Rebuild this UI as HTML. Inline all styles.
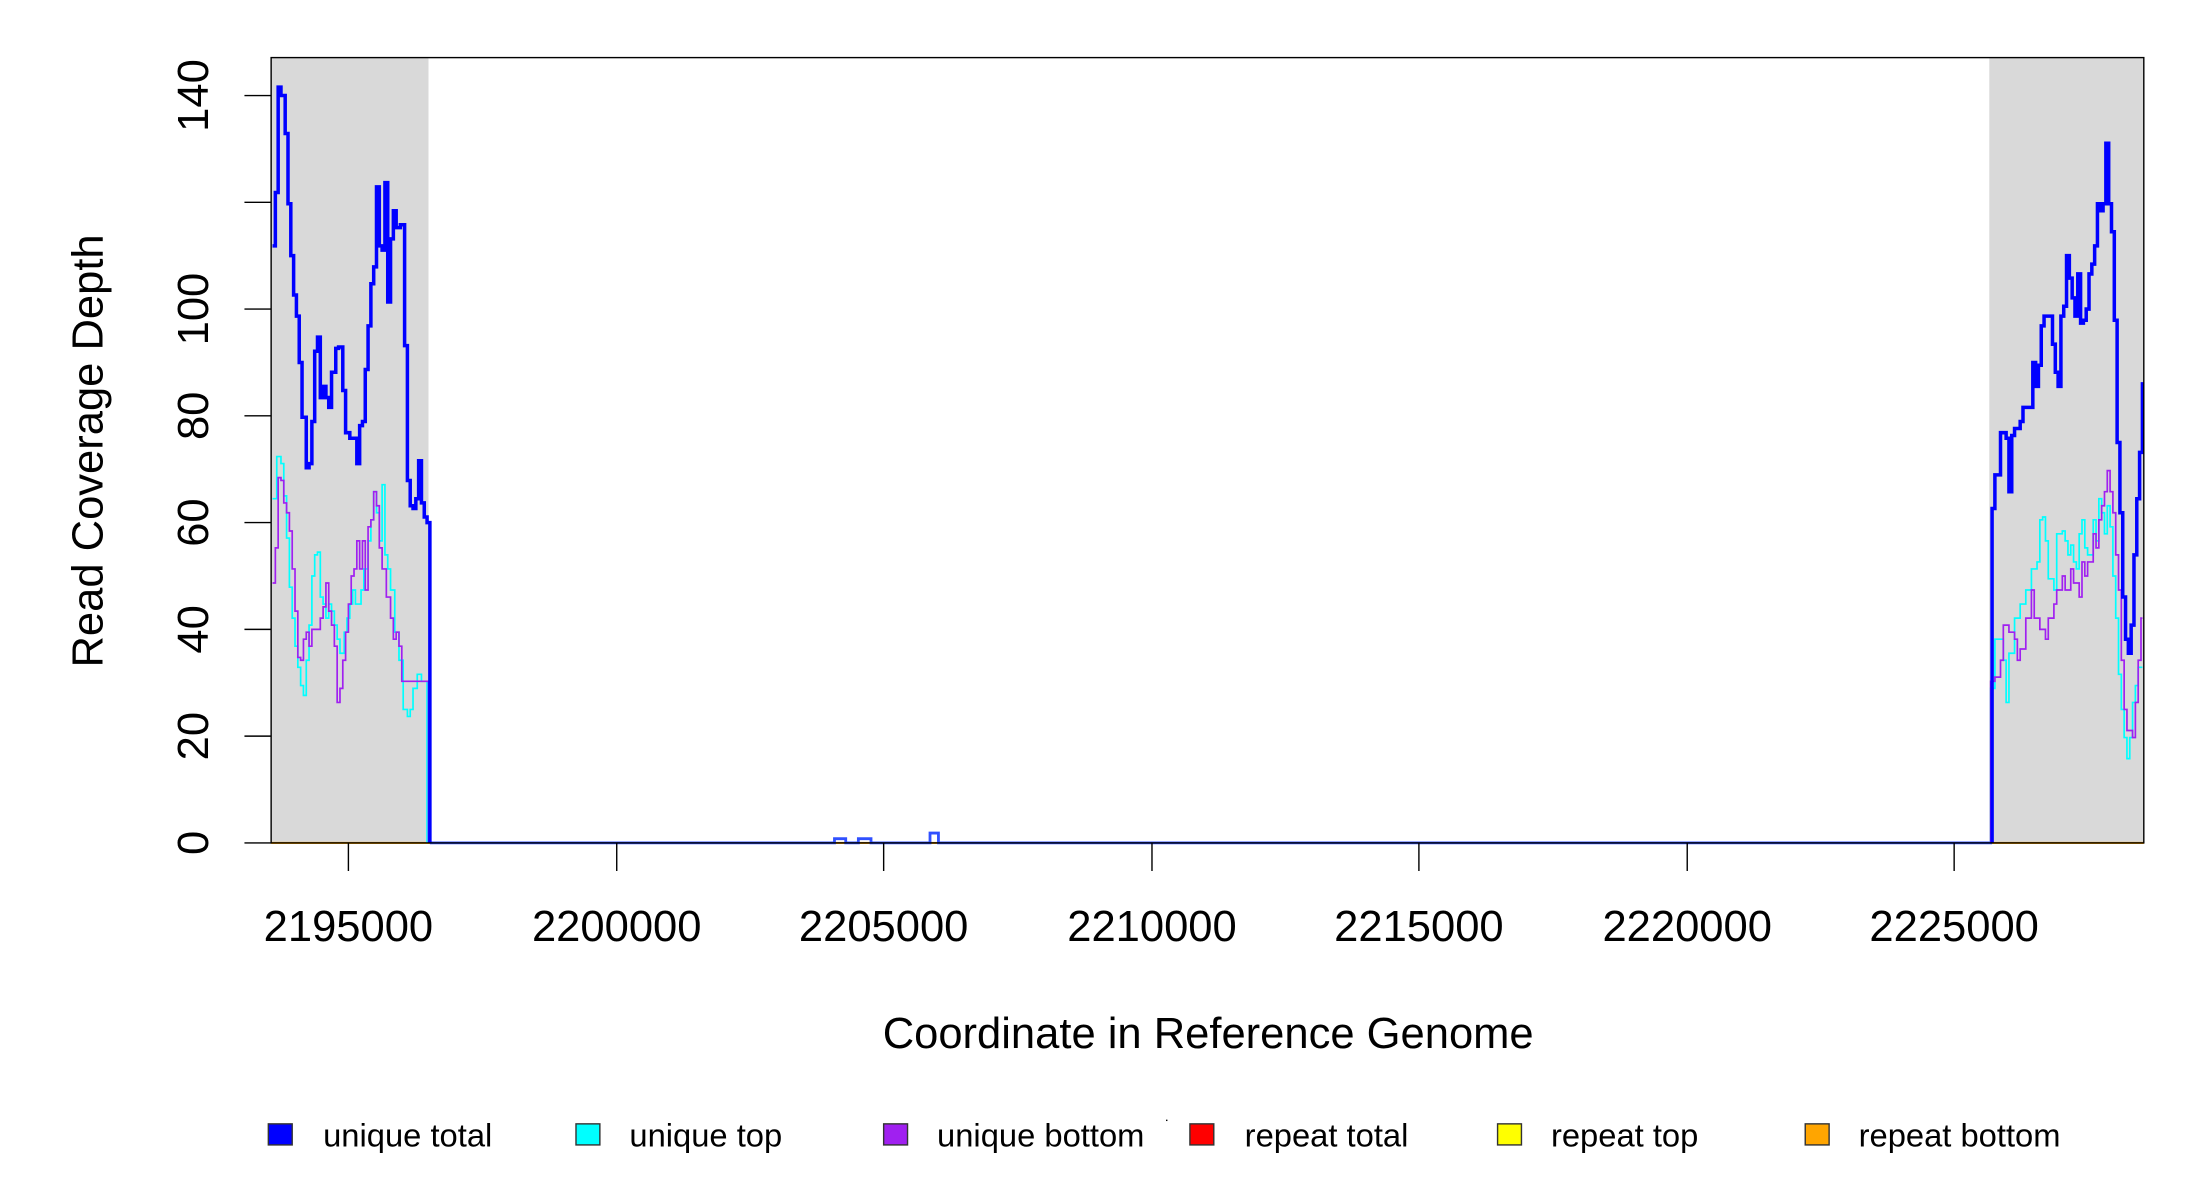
<!DOCTYPE html>
<html><head><meta charset="utf-8"><style>html,body{margin:0;padding:0;background:#fff}svg{display:block}</style></head>
<body>
<svg width="2200" height="1200" viewBox="0 0 1566 854.2" preserveAspectRatio="none" xmlns="http://www.w3.org/2000/svg" font-family="Liberation Sans, sans-serif">
<rect width="1566" height="854.2" fill="#fff"/>
<rect x="193" y="41" width="112" height="559" fill="#d9d9d9"/>
<rect x="1416" y="41" width="110" height="559" fill="#d9d9d9"/>
<line x1="193" y1="600" x2="1526" y2="600" stroke="#ffa500" stroke-width="1.5"/>
<path d="M306 600 H594 V597 H602 V600 H611 V597 H620 V600 H662 V593 H668 V600 H1418" fill="none" stroke="#3050ff" stroke-width="2"/>
<path fill="none" stroke="#00ffff" stroke-width="1.2" d="M194 355 H197 V325 H200 V330 H202 V353 H204 V383 H206 V418 H208 V440 H210 V460 H212 V475 H214 V488 H216 V495 H218 V470 H220 V445 H222 V410 H224 V395 H226 V393 H228 V425 H230 V430 H232 V440 H234 V430 H236 V435 H238 V445 H240 V455 H242 V465 H245 V450 H247 V440 H249 V430 H251 V420 H253 V430 H257 V420 H259 V405 H262 V385 H264 V370 H266 V350 H268 V365 H270 V385 H272 V345 H274 V395 H276 V405 H278 V420 H281 V450 H284 V470 H287 V505 H290 V510 H292 V505 H294 V490 H297 V480 H300 V485 H304 V600"/>
<path fill="none" stroke="#a020f0" stroke-width="1.2" d="M194 415 H196 V390 H198 V340 H200 V342 H202 V358 H204 V365 H206 V378 H208 V405 H210 V435 H212 V468 H214 V470 H216 V455 H218 V450 H220 V460 H222 V448 H226 V448 H228 V440 H230 V432 H232 V415 H234 V435 H236 V445 H238 V460 H240 V500 H242 V490 H244 V470 H246 V450 H248 V430 H250 V410 H252 V405 H254 V385 H256 V405 H258 V385 H260 V420 H262 V375 H264 V370 H266 V350 H268 V360 H270 V390 H272 V405 H275 V425 H278 V440 H280 V455 H282 V450 H284 V460 H286 V485 H305 V600"/>
<path fill="none" stroke="#0000ff" stroke-width="2.5" d="M194 175 H196 V137 H198 V62 H200 V68 H203 V95 H205 V145 H207 V182 H209 V210 H211 V225 H213 V258 H215 V297 H218 V333 H220 V330 H222 V300 H224 V250 H226 V240 H228 V283 H230 V275 H232 V283 H234 V290 H236 V265 H239 V248 H241 V247 H244 V278 H246 V308 H249 V312 H252 V312 H254 V330 H256 V303 H258 V300 H260 V263 H262 V232 H264 V202 H266 V190 H268 V133 H270 V175 H272 V178 H274 V130 H276 V215 H278 V170 H280 V150 H282 V162 H285 V160 H288 V246 H290 V342 H292 V360 H294 V362 H296 V355 H298 V328 H300 V358 H302 V368 H304 V372 H306 V600"/>
<path fill="none" stroke="#00ffff" stroke-width="1.2" d="M1417 600 V490 H1420 V455 H1424 V455 H1426 V470 H1428 V500 H1430 V465 H1434 V440 H1438 V430 H1442 V420 H1446 V405 H1450 V400 H1452 V370 H1454 V368 H1456 V385 H1458 V412 H1462 V420 H1464 V380 H1468 V378 H1470 V385 H1472 V395 H1474 V388 H1476 V400 H1478 V405 H1480 V380 H1482 V370 H1484 V390 H1486 V395 H1490 V370 H1492 V385 H1494 V355 H1496 V365 H1498 V380 H1500 V360 H1502 V375 H1504 V410 H1506 V440 H1508 V480 H1510 V505 H1512 V525 H1514 V540 H1516 V525 H1518 V500 H1520 V488 H1522 V475 H1525"/>
<path fill="none" stroke="#a020f0" stroke-width="1.2" d="M1417 600 V485 H1420 V482 H1424 V470 H1426 V445 H1430 V450 H1434 V455 H1436 V470 H1438 V462 H1442 V440 H1446 V420 H1448 V440 H1452 V448 H1456 V455 H1458 V440 H1462 V430 H1464 V420 H1468 V410 H1470 V420 H1474 V405 H1476 V415 H1480 V425 H1482 V400 H1484 V410 H1486 V400 H1490 V380 H1492 V390 H1494 V370 H1496 V360 H1498 V350 H1500 V335 H1502 V350 H1504 V365 H1506 V395 H1508 V420 H1510 V470 H1512 V505 H1514 V520 H1518 V525 H1520 V500 H1522 V470 H1524 V440 H1525"/>
<path fill="none" stroke="#0000ff" stroke-width="2.5" d="M1418 600 V362 H1420 V338 H1424 V308 H1428 V312 H1430 V350 H1432 V310 H1434 V305 H1438 V300 H1440 V290 H1445 V290 H1447 V258 H1449 V275 H1451 V260 H1453 V232 H1455 V225 H1459 V225 H1461 V245 H1463 V265 H1465 V275 H1467 V225 H1469 V218 H1471 V182 H1473 V198 H1475 V212 H1477 V225 H1479 V195 H1481 V230 H1483 V228 H1485 V220 H1487 V195 H1489 V188 H1491 V175 H1493 V145 H1495 V150 H1497 V145 H1499 V102 H1501 V145 H1503 V165 H1505 V228 H1507 V315 H1509 V365 H1511 V425 H1513 V455 H1515 V465 H1517 V445 H1519 V395 H1521 V355 H1523 V322 H1525 V272"/>
<rect x="193" y="41" width="1333" height="559" fill="none" stroke="#000" stroke-width="1"/>
<g stroke="#000" stroke-width="1">
<line x1="174" y1="600" x2="193" y2="600"/><line x1="174" y1="524" x2="193" y2="524"/><line x1="174" y1="448" x2="193" y2="448"/><line x1="174" y1="372" x2="193" y2="372"/><line x1="174" y1="296" x2="193" y2="296"/><line x1="174" y1="220" x2="193" y2="220"/><line x1="174" y1="144" x2="193" y2="144"/><line x1="174" y1="68" x2="193" y2="68"/>
</g>
<g font-size="31" text-anchor="middle" fill="#000">
<text transform="translate(148,600) rotate(-90)">0</text>
<text transform="translate(148,524) rotate(-90)">20</text>
<text transform="translate(148,448) rotate(-90)">40</text>
<text transform="translate(148,372) rotate(-90)">60</text>
<text transform="translate(148,296) rotate(-90)">80</text>
<text transform="translate(148,220) rotate(-90)">100</text>
<text transform="translate(148,68) rotate(-90)">140</text>
<text transform="translate(73,321) rotate(-90)">Read Coverage Depth</text>
</g>
<g stroke="#000" stroke-width="1">
<line x1="248" y1="600" x2="248" y2="620"/><line x1="439" y1="600" x2="439" y2="620"/><line x1="629" y1="600" x2="629" y2="620"/><line x1="820" y1="600" x2="820" y2="620"/><line x1="1010" y1="600" x2="1010" y2="620"/><line x1="1201" y1="600" x2="1201" y2="620"/><line x1="1391" y1="600" x2="1391" y2="620"/>
</g>
<g font-size="31" text-anchor="middle" fill="#000">
<text x="248" y="670">2195000</text><text x="439" y="670">2200000</text><text x="629" y="670">2205000</text><text x="820" y="670">2210000</text><text x="1010" y="670">2215000</text><text x="1201" y="670">2220000</text><text x="1391" y="670">2225000</text>
<text x="860" y="746">Coordinate in Reference Genome</text>
</g>
<g stroke="#333" stroke-width="1">
<rect x="191" y="800" width="17" height="15" fill="#0000ff"/>
<rect x="410" y="800" width="17" height="15" fill="#00ffff"/>
<rect x="629" y="800" width="17" height="15" fill="#a020f0"/>
<rect x="847" y="800" width="17" height="15" fill="#ff0000"/>
<rect x="1066" y="800" width="17" height="15" fill="#ffff00"/>
<rect x="1285" y="800" width="17" height="15" fill="#ffa500"/>
</g>
<g font-size="23.3" fill="#000">
<text x="230" y="816">unique total</text><text x="448" y="816">unique top</text><text x="667" y="816">unique bottom</text><text x="886" y="816">repeat total</text><text x="1104" y="816">repeat top</text><text x="1323" y="816">repeat bottom</text>
</g>
<rect x="830" y="797" width="1" height="1" fill="#000"/>
</svg>
</body></html>
